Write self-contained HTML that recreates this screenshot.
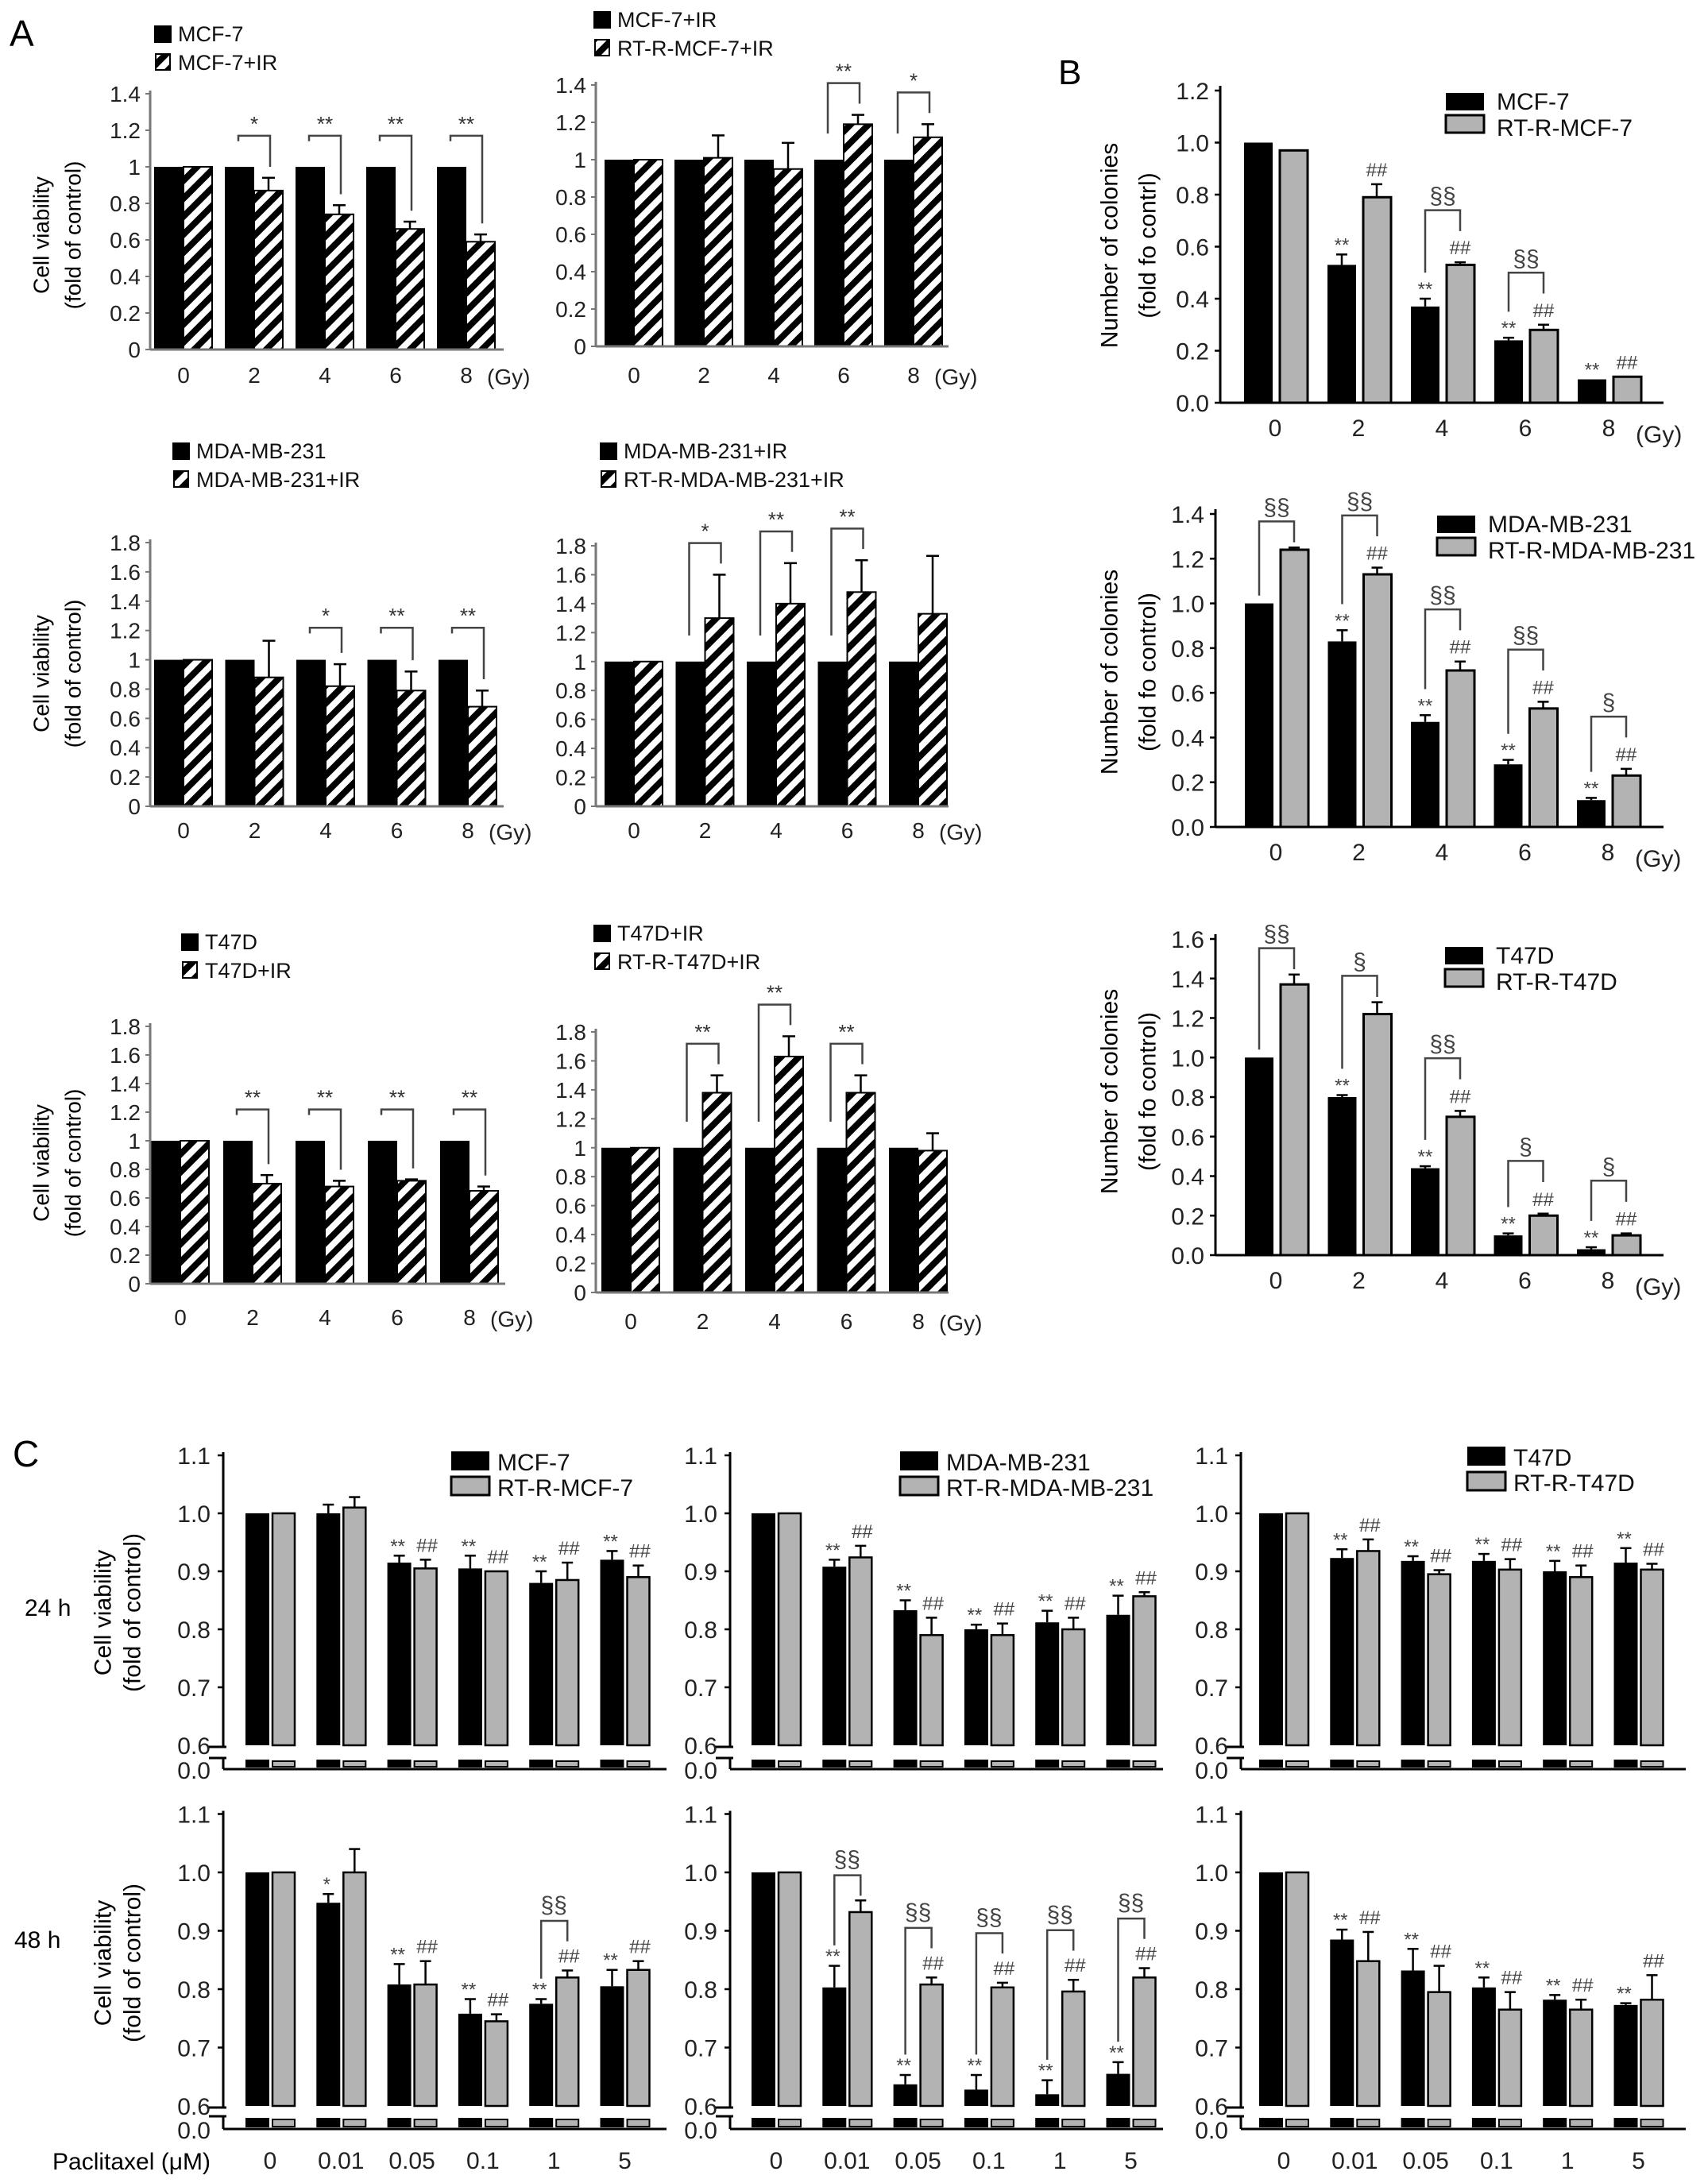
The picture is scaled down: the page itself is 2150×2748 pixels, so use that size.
<!DOCTYPE html>
<html><head><meta charset="utf-8"><style>
html,body{margin:0;padding:0;background:#fff;}
svg{display:block;font-family:"Liberation Sans",Arial,sans-serif;}
</style></head><body>
<svg id="fig" xmlns="http://www.w3.org/2000/svg" width="2150" height="2748" viewBox="0 0 2150 2748">
<defs>
<pattern id="hatch" patternUnits="userSpaceOnUse" width="16" height="16" patternTransform="rotate(45)">
<rect x="0" y="0" width="16" height="16" fill="#fff"/><rect x="0" y="0" width="8" height="16" fill="#000"/>
</pattern>
</defs>
<rect x="0" y="0" width="2150" height="2748" fill="#fff"/>
</svg>
<script>
// ---------- Panel A data ----------
const aDoseLabels = ['0','2','4','6','8'];
const aTicks14 = ['0','0.2','0.4','0.6','0.8','1','1.2','1.4'];
const aTicks18 = ['0','0.2','0.4','0.6','0.8','1','1.2','1.4','1.6','1.8'];
const a1Black = [1,1,1,1,1];
const a1Hatch = [1,0.87,0.74,0.66,0.59];
const a1Err = [0,0.07,0.05,0.04,0.04];
const a1Sig = ['','*','**','**','**'];
const a2Black = [1,1,1,1,1];
const a2Hatch = [1,1.01,0.95,1.19,1.12];
const a2Err = [0,0.12,0.14,0.05,0.07];
const a2Sig = ['','','','**','*'];
const a3Black = [1,1,1,1,1];
const a3Hatch = [1,0.88,0.82,0.79,0.68];
const a3Err = [0,0.25,0.15,0.13,0.11];
const a3Sig = ['','','*','**','**'];
const a4Black = [1,1,1,1,1];
const a4Hatch = [1,1.3,1.4,1.48,1.33];
const a4Err = [0,0.3,0.28,0.22,0.4];
const a4Sig = ['','*','**','**',''];
const a5Black = [1,1,1,1,1];
const a5Hatch = [1,0.7,0.68,0.72,0.65];
const a5Err = [0,0.06,0.04,0.01,0.03];
const a5Sig = ['','**','**','**','**'];
const a6Black = [1,1,1,1,1];
const a6Hatch = [1,1.38,1.63,1.38,0.98];
const a6Err = [0,0.12,0.14,0.12,0.12];
const a6Sig = ['','**','**','**',''];
// ---------- Panel B data ----------
const bTicks12 = ['0.0','0.2','0.4','0.6','0.8','1.0','1.2'];
const bTicks14 = ['0.0','0.2','0.4','0.6','0.8','1.0','1.2','1.4'];
const bTicks16 = ['0.0','0.2','0.4','0.6','0.8','1.0','1.2','1.4','1.6'];
const b1Black = [1,0.53,0.37,0.24,0.09];
const b1BlackErr = [0,0.04,0.03,0.01,0];
const b1Gray = [0.97,0.79,0.53,0.28,0.1];
const b1GrayErr = [0,0.05,0.01,0.02,0];
const b1SigBlack = ['','**','**','**','**'];
const b1SigGray = ['','##','##','##','##'];
const b1Bracket = ['','','§§','§§',''];
const b2Black = [1,0.83,0.47,0.28,0.12];
const b2BlackErr = [0,0.05,0.03,0.02,0.01];
const b2Gray = [1.24,1.13,0.7,0.53,0.23];
const b2GrayErr = [0.01,0.03,0.04,0.03,0.03];
const b2SigBlack = ['','**','**','**','**'];
const b2SigGray = ['','##','##','##','##'];
const b2Bracket = ['§§','§§','§§','§§','§'];
const b3Black = [1,0.8,0.44,0.1,0.03];
const b3BlackErr = [0,0.01,0.01,0.01,0.01];
const b3Gray = [1.37,1.22,0.7,0.2,0.1];
const b3GrayErr = [0.05,0.06,0.03,0.01,0.01];
const b3SigBlack = ['','**','**','**','**'];
const b3SigGray = ['','','##','##','##'];
const b3Bracket = ['§§','§','§§','§','§'];
// ---------- Panel C data ----------
const cDoseLabels = ['0','0.01','0.05','0.1','1','5'];
const cTicks = ['0.6','0.7','0.8','0.9','1.0','1.1'];
const c1Black = [1,1,0.915,0.905,0.88,0.92];
const c1BlackErr = [0,0.015,0.012,0.022,0.02,0.015];
const c1Gray = [1,1.01,0.905,0.9,0.885,0.89];
const c1GrayErr = [0,0.018,0.015,0,0.03,0.02];
const c1SigBlack = ['','','**','**','**','**'];
const c1SigGray = ['','','##','##','##','##'];
const c1Bracket = ['','','','','',''];
const c2Black = [1,0.908,0.833,0.8,0.812,0.825];
const c2BlackErr = [0,0.012,0.017,0.008,0.02,0.033];
const c2Gray = [1,0.924,0.79,0.79,0.8,0.857];
const c2GrayErr = [0,0.02,0.03,0.02,0.02,0.007];
const c2SigBlack = ['','**','**','**','**','**'];
const c2SigGray = ['','##','##','##','##','##'];
const c2Bracket = ['','','','','',''];
const c3Black = [1,0.923,0.918,0.918,0.9,0.915];
const c3BlackErr = [0,0.015,0.008,0.012,0.018,0.025];
const c3Gray = [1,0.935,0.895,0.903,0.89,0.903];
const c3GrayErr = [0,0.02,0.007,0.018,0.02,0.01];
const c3SigBlack = ['','**','**','**','**','**'];
const c3SigGray = ['','##','##','##','##','##'];
const c3Bracket = ['','','','','',''];
const c4Black = [1,0.948,0.808,0.758,0.775,0.805];
const c4BlackErr = [0,0.015,0.035,0.025,0.008,0.028];
const c4Gray = [1,1.0,0.808,0.745,0.82,0.833];
const c4GrayErr = [0,0.04,0.04,0.012,0.012,0.015];
const c4SigBlack = ['','*','**','**','**','**'];
const c4SigGray = ['','','##','##','##','##'];
const c4Bracket = ['','','','','§§',''];
const c5Black = [1,0.803,0.637,0.628,0.62,0.655];
const c5BlackErr = [0,0.037,0.016,0.025,0.024,0.02];
const c5Gray = [1,0.932,0.808,0.803,0.796,0.82];
const c5GrayErr = [0,0.02,0.012,0.008,0.02,0.016];
const c5SigBlack = ['','**','**','**','**','**'];
const c5SigGray = ['','','##','##','##','##'];
const c5Bracket = ['','§§','§§','§§','§§','§§'];
const c6Black = [1,0.885,0.832,0.803,0.782,0.773];
const c6BlackErr = [0,0.017,0.037,0.017,0.008,0.003];
const c6Gray = [1,0.848,0.795,0.765,0.765,0.782];
const c6GrayErr = [0,0.05,0.045,0.03,0.017,0.042];
const c6SigBlack = ['','**','**','**','**','**'];
const c6SigGray = ['','##','##','##','##','##'];
const c6Bracket = ['','','','','',''];

const NS = 'http://www.w3.org/2000/svg';
const svg = document.getElementById('fig');
function mk(tag, parent) { const e = document.createElementNS(NS, tag); parent.appendChild(e); return e; }
function ln(p, x1, y1, x2, y2, w, col, name) {
  const e = mk('line', p);
  e.setAttribute('x1', x1); e.setAttribute('y1', y1); e.setAttribute('x2', x2); e.setAttribute('y2', y2);
  e.setAttribute('stroke', col || '#000'); e.setAttribute('stroke-width', w || 2);
  
  
  return e;
}
function tx(p, x, y, s, size, anchor, name, fill) {
  const e = mk('text', p);
  e.setAttribute('x', x); e.setAttribute('y', y); e.setAttribute('font-size', size);
  e.setAttribute('text-anchor', anchor || 'start'); e.setAttribute('fill', fill || '#000');
  e.textContent = s;
  
  
  return e;
}
function rc(p, x, y, w, h, fill, stroke, sw, name) {
  const e = mk('rect', p);
  e.setAttribute('x', x); e.setAttribute('y', y); e.setAttribute('width', Math.max(0, w)); e.setAttribute('height', Math.max(0, h));
  e.setAttribute('fill', fill);
  if (stroke) { e.setAttribute('stroke', stroke); e.setAttribute('stroke-width', sw || 2); }
  
  
  return e;
}
function vtext(p, cx, cy, s, size, name) {
  const e = tx(p, cx, cy, s, size, 'middle', name);
  e.setAttribute('dominant-baseline', 'central');
  e.setAttribute('transform', 'rotate(-90 ' + cx + ' ' + cy + ')');
  return e;
}
function errBar(p, x, y1, y2, cap, name) {
  ln(p, x, y1, x, y2, 2.5, '#000', name);
  ln(p, x - cap, y2, x + cap, y2, 2.5, '#000', name + '-cap');
}
function bracket(p, x1, yb1, x2, yb2, yt, col) {
  const e = mk('polyline', p);
  e.setAttribute('points', x1 + ',' + yb1 + ' ' + x1 + ',' + yt + ' ' + x2 + ',' + yt + ' ' + x2 + ',' + yb2);
  e.setAttribute('fill', 'none'); e.setAttribute('stroke', col || '#333'); e.setAttribute('stroke-width', 2.5);
  
  
}

// ---------- Panel A ----------
function drawA(p, ticks, black, hatch, err, sig, leg1, leg2, name) {
  const g = mk('g', svg);
  
  
  const ymax = parseFloat(ticks[ticks.length - 1]);
  const s = ymax / 1.4;
  const y = v => p.base - (v / ymax) * (p.base - p.top);
  const x = i => p.cx0 + i * p.dx;
  ticks.forEach(t => {
    const v = parseFloat(t);
    ln(g, p.ax - 6, y(v), p.ax, y(v), 2, '#777', 'y-tick');
    tx(g, p.ax - 12, y(v) + 10, t, 28, 'end', 'y-tick-label', '#222');
  });
  black.forEach((v, i) => {
    const c = x(i);
    rc(g, c - 37, y(v), 37, y(0) - y(v), '#000', null, 0, 'bar-black-' + aDoseLabels[i]);
    rc(g, c, y(hatch[i]), 36, y(0) - y(hatch[i]), 'url(#hatch)', '#000', 2, 'bar-hatched-' + aDoseLabels[i]);
    if (err[i] > 0) errBar(g, c + 18, y(hatch[i]), y(hatch[i] + err[i]), 8, 'error-bar');
    tx(g, c, p.base + p.ldy, aDoseLabels[i], 28, 'middle', 'x-tick-label', '#222');
    if (sig[i]) {
      const top = y(Math.max(v, hatch[i] + err[i]) + 0.17 * s);
      bracket(g, c - 20, y(v + 0.14 * s), c + 20, y(hatch[i] + err[i] + 0.06 * s), top, '#444');
      tx(g, c, top - 6, sig[i], 26, 'middle', 'significance-mark', '#333');
    }
  });
  ln(g, p.ax, p.top - 4, p.ax, p.base, 3, '#777', 'y-axis');
  ln(g, p.ax, p.base, p.axEnd, p.base, 3, '#777', 'x-axis');
  tx(g, x(4) + 26, p.base + p.ldy + 2, '(Gy)', 28, 'start', 'x-unit', '#222');
  rc(g, p.lx, p.ly - 20, 22, 22, '#000', null, 0, 'legend-swatch-black');
  tx(g, p.lx + 30, p.ly, leg1, 27, 'start', 'legend-label', '#111');
  rc(g, p.lx + 2, p.ly + 16, 18, 20, 'url(#hatch)', '#000', 2, 'legend-swatch-hatched');
  tx(g, p.lx + 30, p.ly + 36, leg2, 27, 'start', 'legend-label', '#111');
  if (p.ylab) {
    vtext(g, p.ylx, p.yly, 'Cell viability', 28, 'y-axis-title');
    vtext(g, p.ylx + 40, p.yly, '(fold of control)', 28, 'y-axis-title');
  }
}
drawA({ax:189, base:440, top:118, cx0:231, dx:89, axEnd:634, ldy:42, lx:194, ly:52, ylab:true, ylx:52, yly:296}, aTicks14, a1Black, a1Hatch, a1Err, a1Sig, 'MCF-7', 'MCF-7+IR', 'chart-a-mcf7');
drawA({ax:750, base:436, top:107, cx0:798, dx:88, axEnd:1194, ldy:46, lx:747, ly:34, ylab:false}, aTicks14, a2Black, a2Hatch, a2Err, a2Sig, 'MCF-7+IR', 'RT-R-MCF-7+IR', 'chart-a-rtr-mcf7');
drawA({ax:189, base:1015, top:683, cx0:231, dx:89.5, axEnd:634, ldy:40, lx:217, ly:577, ylab:true, ylx:52, yly:848}, aTicks18, a3Black, a3Hatch, a3Err, a3Sig, 'MDA-MB-231', 'MDA-MB-231+IR', 'chart-a-mda');
drawA({ax:750, base:1015, top:687, cx0:798, dx:89.5, axEnd:1194, ldy:40, lx:755, ly:577, ylab:false}, aTicks18, a4Black, a4Hatch, a4Err, a4Sig, 'MDA-MB-231+IR', 'RT-R-MDA-MB-231+IR', 'chart-a-rtr-mda');
drawA({ax:189, base:1616, top:1292, cx0:227, dx:91, axEnd:636, ldy:52, lx:228, ly:1195, ylab:true, ylx:52, yly:1464}, aTicks18, a5Black, a5Hatch, a5Err, a5Sig, 'T47D', 'T47D+IR', 'chart-a-t47d');
drawA({ax:750, base:1627, top:1299, cx0:794, dx:90.5, axEnd:1194, ldy:46, lx:747, ly:1184, ylab:false}, aTicks18, a6Black, a6Hatch, a6Err, a6Sig, 'T47D+IR', 'RT-R-T47D+IR', 'chart-a-rtr-t47d');
tx(svg, 12, 58, 'A', 46, 'start', 'panel-label-a');

// ---------- Panel B ----------
function drawB(p, ticks, black, bErr, gray, gErr, s1, s2, br, leg1, leg2, ylab2, name) {
  const g = mk('g', svg);
  
  
  const ymax = parseFloat(ticks[ticks.length - 1]);
  const s = ymax / 1.2;
  const y = v => p.base - (v / ymax) * (p.base - p.top);
  const x = i => p.cx0 + i * p.dx;
  ticks.forEach(t => {
    const v = parseFloat(t);
    ln(g, p.ax - 7, y(v), p.ax, y(v), 2.5, '#000', 'y-tick');
    tx(g, p.ax - 14, y(v) + 11, t, 30, 'end', 'y-tick-label', '#222');
  });
  black.forEach((v, i) => {
    const c = x(i);
    rc(g, c - 39, y(v), 36, y(0) - y(v), '#000', null, 0, 'bar-black-' + aDoseLabels[i]);
    rc(g, c + 6, y(gray[i]), 35, y(0) - y(gray[i]), '#b3b3b3', '#000', 3, 'bar-gray-' + aDoseLabels[i]);
    if (bErr[i] > 0) errBar(g, c - 21, y(v), y(v + bErr[i]), 7, 'error-bar');
    if (gErr[i] > 0) errBar(g, c + 23, y(gray[i]), y(gray[i] + gErr[i]), 7, 'error-bar');
    tx(g, c, p.base + 42, aDoseLabels[i], 30, 'middle', 'x-tick-label', '#222');
    if (s1[i]) tx(g, c - 21, y(v + bErr[i]) - 4, s1[i], 24, 'middle', 'significance-mark', '#444');
    if (s2[i]) tx(g, c + 23, y(gray[i] + gErr[i]) - 10, s2[i], 24, 'middle', 'significance-mark', '#444');
    if (br[i]) {
      const rb = gray[i] + gErr[i] + (s2[i] ? 0.12 : 0.02) * s;
      const lb = v + bErr[i] + (s1[i] ? 0.1 : 0.03) * s;
      const top = rb + 0.08 * s;
      bracket(g, c - 21, y(lb), c + 23, y(rb), y(top), '#444');
      tx(g, c + 1, y(top) - 8, br[i], 30, 'middle', 'significance-mark', '#444');
    }
  });
  ln(g, p.ax, p.top - 6, p.ax, p.base, 3, '#000', 'y-axis');
  ln(g, p.ax, p.base, p.axEnd, p.base, 3, '#000', 'x-axis');
  tx(g, x(4) + 34, p.base + 50, '(Gy)', 30, 'start', 'x-unit', '#222');
  rc(g, p.lx, p.ly - 21, 48, 22, '#000', null, 0, 'legend-swatch-black');
  tx(g, p.lx + 64, p.ly, leg1, 30, 'start', 'legend-label', '#111');
  rc(g, p.lx, p.ly + 7, 48, 22, '#b3b3b3', '#000', 3, 'legend-swatch-gray');
  tx(g, p.lx + 64, p.ly + 33, leg2, 30, 'start', 'legend-label', '#111');
  vtext(g, 1397, p.yly, 'Number of colonies', 30, 'y-axis-title');
  vtext(g, 1445, p.yly, ylab2, 30, 'y-axis-title');
}
drawB({ax:1536, base:507, top:114, cx0:1605, dx:105, axEnd:2094, lx:1820, ly:138, yly:309}, bTicks12, b1Black, b1BlackErr, b1Gray, b1GrayErr, b1SigBlack, b1SigGray, b1Bracket, 'MCF-7', 'RT-R-MCF-7', '(fold fo contrl)', 'chart-b-mcf7');
drawB({ax:1530, base:1041, top:647, cx0:1606, dx:104.5, axEnd:2094, lx:1809, ly:670, yly:846}, bTicks14, b2Black, b2BlackErr, b2Gray, b2GrayErr, b2SigBlack, b2SigGray, b2Bracket, 'MDA-MB-231', 'RT-R-MDA-MB-231', '(fold fo control)', 'chart-b-mda');
drawB({ax:1530, base:1580, top:1182, cx0:1606, dx:104.5, axEnd:2094, lx:1819, ly:1213, yly:1374}, bTicks16, b3Black, b3BlackErr, b3Gray, b3GrayErr, b3SigBlack, b3SigGray, b3Bracket, 'T47D', 'RT-R-T47D', '(fold fo control)', 'chart-b-t47d');
tx(svg, 1332, 106, 'B', 44, 'start', 'panel-label-b');

// ---------- Panel C ----------
function drawC(p, black, bErr, gray, gErr, s1, s2, br, leg1, leg2, name) {
  const g = mk('g', svg);
  
  
  const lo = parseFloat(cTicks[0]);
  const y = v => p.y1 - (v - 1) * p.k;
  const x = i => p.cx0 + i * 89.3;
  cTicks.forEach(t => {
    const v = parseFloat(t);
    if (v > lo) ln(g, p.ax - 7, y(v), p.ax, y(v), 2.5, '#000', 'y-tick');
    tx(g, p.ax - 16, y(v) + 11, t, 30, 'end', 'y-tick-label', '#222');
  });
  tx(g, p.ax - 16, p.base + 12, '0.0', 30, 'end', 'y-tick-label', '#222');
  black.forEach((v, i) => {
    const c = x(i);
    rc(g, c - 31, y(v), 30, y(lo) - y(v), '#000', null, 0, 'bar-black-' + cDoseLabels[i]);
    rc(g, c + 3, y(gray[i]), 28, y(lo) - y(gray[i]), '#b3b3b3', '#000', 2.5, 'bar-gray-' + cDoseLabels[i]);
    rc(g, c - 31, p.stub, 30, p.base - p.stub - 2, '#000', null, 0, 'bar-black-stub');
    rc(g, c + 3, p.stub + 2, 28, p.base - p.stub - 5, '#b3b3b3', '#000', 2, 'bar-gray-stub');
    if (bErr[i] > 0) errBar(g, c - 16, y(v), y(v + bErr[i]), 7, 'error-bar');
    if (gErr[i] > 0) errBar(g, c + 17, y(gray[i]), y(gray[i] + gErr[i]), 7, 'error-bar');
    if (p.xlab) tx(g, c, p.base + 50, cDoseLabels[i], 30, 'middle', 'x-tick-label', '#222');
    if (s1[i]) tx(g, c - 18, y(v + bErr[i]) - 4, s1[i], 24, 'middle', 'significance-mark', '#444');
    if (s2[i]) tx(g, c + 19, y(gray[i] + gErr[i]) - 10, s2[i], 24, 'middle', 'significance-mark', '#444');
    if (br[i]) {
      const rb = gray[i] + gErr[i] + (s2[i] ? 0.05 : 0.008);
      const lb = v + bErr[i] + (s1[i] ? 0.035 : 0.01);
      const top = rb + 0.035;
      bracket(g, c - 16, y(lb), c + 17, y(rb), y(top), '#444');
      tx(g, c, y(top) - 10, br[i], 30, 'middle', 'significance-mark', '#444');
    }
  });
  ln(g, p.ax, y(1.1) - 4, p.ax, y(lo) + 2, 3, '#000', 'y-axis-upper');
  ln(g, p.ax, p.stub - 2, p.ax, p.base, 3, '#000', 'y-axis-lower');
  ln(g, p.ax - 18, y(lo) + 2, p.ax + 4, y(lo) + 2, 3, '#000', 'axis-break-mark');
  ln(g, p.ax - 18, p.stub - 2, p.ax + 4, p.stub - 2, 3, '#000', 'axis-break-mark');
  ln(g, p.ax, p.base, p.axEnd, p.base, 3, '#000', 'x-axis');
  if (leg1) {
    rc(g, p.lx, p.ly - 24, 48, 24, '#000', null, 0, 'legend-swatch-black');
    tx(g, p.lx + 58, p.ly, leg1, 30, 'start', 'legend-label', '#111');
    rc(g, p.lx, p.ly + 8, 48, 23, '#b3b3b3', '#000', 3, 'legend-swatch-gray');
    tx(g, p.lx + 58, p.ly + 32, leg2, 30, 'start', 'legend-label', '#111');
  }
}
const cAx = [281, 919, 1562];
const cCx = [340, 977, 1616];
const cEnd = [839, 1464, 2122];
const cLeg = [[568,1851],[1133,1851],[1847,1845]];
const r24 = {y1:1905, k:730, stub:2215, base:2227, xlab:false};
const r48 = {y1:2357, k:735, stub:2666, base:2680, xlab:true};
drawC(Object.assign({ax:cAx[0], cx0:cCx[0], axEnd:cEnd[0], lx:cLeg[0][0], ly:cLeg[0][1]}, r24), c1Black, c1BlackErr, c1Gray, c1GrayErr, c1SigBlack, c1SigGray, c1Bracket, 'MCF-7', 'RT-R-MCF-7', 'chart-c-mcf7-24h');
drawC(Object.assign({ax:cAx[1], cx0:cCx[1], axEnd:cEnd[1], lx:cLeg[1][0], ly:cLeg[1][1]}, r24), c2Black, c2BlackErr, c2Gray, c2GrayErr, c2SigBlack, c2SigGray, c2Bracket, 'MDA-MB-231', 'RT-R-MDA-MB-231', 'chart-c-mda-24h');
drawC(Object.assign({ax:cAx[2], cx0:cCx[2], axEnd:cEnd[2], lx:cLeg[2][0], ly:cLeg[2][1]}, r24), c3Black, c3BlackErr, c3Gray, c3GrayErr, c3SigBlack, c3SigGray, c3Bracket, 'T47D', 'RT-R-T47D', 'chart-c-t47d-24h');
drawC(Object.assign({ax:cAx[0], cx0:cCx[0], axEnd:cEnd[0]}, r48), c4Black, c4BlackErr, c4Gray, c4GrayErr, c4SigBlack, c4SigGray, c4Bracket, null, null, 'chart-c-mcf7-48h');
drawC(Object.assign({ax:cAx[1], cx0:cCx[1], axEnd:cEnd[1]}, r48), c5Black, c5BlackErr, c5Gray, c5GrayErr, c5SigBlack, c5SigGray, c5Bracket, null, null, 'chart-c-mda-48h');
drawC(Object.assign({ax:cAx[2], cx0:cCx[2], axEnd:cEnd[2]}, r48), c6Black, c6BlackErr, c6Gray, c6GrayErr, c6SigBlack, c6SigGray, c6Bracket, null, null, 'chart-c-t47d-48h');
tx(svg, 16, 1846, 'C', 46, 'start', 'panel-label-c');
tx(svg, 31, 2034, '24 h', 30, 'start', 'row-label-24h');
tx(svg, 18, 2452, '48 h', 30, 'start', 'row-label-48h');
vtext(svg, 130, 2030, 'Cell viability', 30, 'y-axis-title');
vtext(svg, 167, 2030, '(fold of control)', 30, 'y-axis-title');
vtext(svg, 130, 2471, 'Cell viability', 30, 'y-axis-title');
vtext(svg, 167, 2471, '(fold of control)', 30, 'y-axis-title');
tx(svg, 66, 2731, 'Paclitaxel (\u03bcM)', 30, 'start', 'x-axis-title');
</script>
</body></html>
